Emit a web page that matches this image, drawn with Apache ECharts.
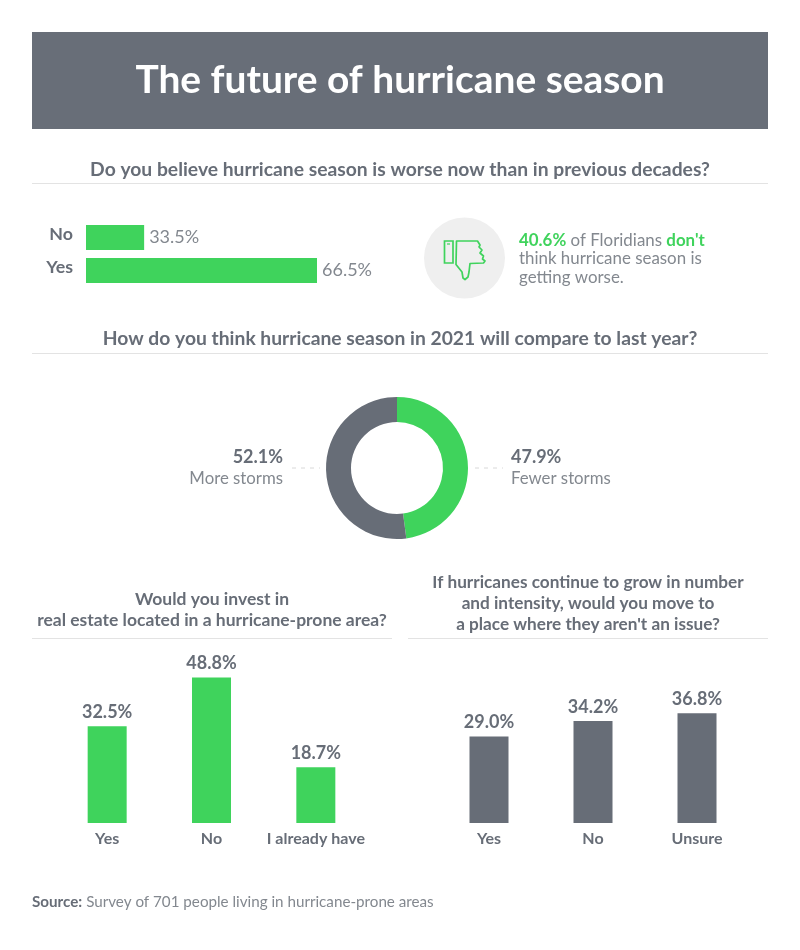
<!DOCTYPE html>
<html>
<head>
<meta charset="utf-8">
<style>
html,body{margin:0;padding:0;background:#fff}
#main{width:800px;height:950px}
</style>
<script src="https://cdn.jsdelivr.net/npm/echarts@6/dist/echarts.min.js"></script>
</head>
<body>
<div id="main"></div>
<script>
// data
var worseCats = ['No', 'Yes'];
var worseVals = [33.5, 66.5];
var compareCats = ['Fewer storms', 'More storms'];
var compareVals = [47.9, 52.1];
var investCats = ['Yes', 'No', 'I already have'];
var investVals = [32.5, 48.8, 18.7];
var moveCats = ['Yes', 'No', 'Unsure'];
var moveVals = [29.0, 34.2, 36.8];

var GREEN = '#3fd35c', GREY = '#676d77', SOFT = '#83888f', RULE = '#e3e3e3';
var FONT = 'Lato';

function pct(v){ return v.toFixed(1) + '%'; }

function heading(text, x, y){
	return {type:'text', x:x, y:y, style:{text:text, font:'700 19.3px ' + FONT, fill:GREY, textAlign:'center', textVerticalAlign:'middle'}};
}
function rule(x1, x2, y){
	return {type:'line', shape:{x1:x1, y1:y, x2:x2, y2:y}, style:{stroke:RULE, lineWidth:1}};
}
function dash(x1, x2){
	return {type:'line', shape:{x1:x1, y1:468, x2:x2, y2:468}, style:{stroke:'#d8d8d8', lineWidth:1, lineDash:[4,5]}};
}
function donutText(i, x, align){
	return {type:'text', x:x, y:468, style:{
		rich:{b:{font:'700 18px ' + FONT, fill:GREY, lineHeight:21}, r:{font:'400 16.8px ' + FONT, fill:SOFT, lineHeight:21}},
		text:'{b|' + pct(compareVals[i]) + '}\n{r|' + compareCats[i] + '}',
		textAlign:align, textVerticalAlign:'middle'
	}};
}
function columnSeries(i, vals, color){
	return {
		type:'bar', xAxisIndex:i, yAxisIndex:i, data:vals, barWidth:39,
		itemStyle:{color:color},
		label:{show:true, position:'top', distance:5, formatter:function(p){ return pct(p.value); }, fontFamily:FONT, fontWeight:700, fontSize:18, color:GREY}
	};
}
function columnX(i, cats){
	return {type:'category', gridIndex:i, data:cats, axisLine:{show:false}, axisTick:{show:false},
		axisLabel:{interval:0, margin:8, fontFamily:FONT, fontWeight:700, fontSize:16, color:GREY}};
}
function columnY(i){
	return {type:'value', gridIndex:i, min:0, max:50, show:false};
}

var chart = echarts.init(document.getElementById('main'), null, {renderer:'canvas'});
chart.setOption({
	animation:false,
	grid:[
		{left:86, top:221, width:231, height:66},
		{left:55, top:674, width:313, height:149},
		{left:437, top:674, width:312, height:149}
	],
	xAxis:[
		// bars in the reference do not start from zero, so the hidden axis does not either
		{type:'value', gridIndex:0, min:22.4, max:66.5, show:false},
		columnX(1, investCats),
		columnX(2, moveCats)
	],
	yAxis:[
		{type:'category', gridIndex:0, inverse:true, data:worseCats, axisLine:{show:false}, axisTick:{show:false},
			axisLabel:{margin:13, verticalAlign:'bottom', lineHeight:6, fontFamily:FONT, fontWeight:700, fontSize:17.8, color:GREY}},
		columnY(1),
		columnY(2)
	],
	series:[
		{type:'bar', xAxisIndex:0, yAxisIndex:0, data:worseVals, barWidth:25, itemStyle:{color:GREEN},
			label:{show:true, position:'right', distance:5, formatter:function(p){ return pct(p.value); }, fontFamily:FONT, fontSize:18, color:SOFT}},
		columnSeries(1, investVals, GREEN),
		columnSeries(2, moveVals, GREY),
		{type:'pie', center:[397,468], radius:[46,71], startAngle:90, clockwise:true, silent:true, label:{show:false}, labelLine:{show:false},
			data:[
				{name:compareCats[0], value:compareVals[0], itemStyle:{color:GREEN}},
				{name:compareCats[1], value:compareVals[1], itemStyle:{color:GREY}}
			]}
	],
	graphic:[
		{type:'rect', shape:{x:32, y:32, width:736, height:97}, style:{fill:'#686e78'}},
		{type:'text', x:400, y:80, style:{text:'The future of hurricane season', font:'700 38.9px ' + FONT, fill:'#fff', textAlign:'center', textVerticalAlign:'middle'}},
		heading('Do you believe hurricane season is worse now than in previous decades?', 400, 170),
		rule(32, 768, 183.5),
		heading('How do you think hurricane season in 2021 will compare to last year?', 400, 339),
		rule(32, 768, 353.5),
		// thumbs down callout
		{type:'circle', shape:{cx:464.5, cy:258, r:40.5}, style:{fill:'#efefef'}},
		{type:'rect', shape:{x:444.5, y:241, width:8.5, height:22}, style:{fill:'none', stroke:GREEN, lineWidth:1.7}},
		{type:'line', shape:{x1:447, y1:244, x2:450, y2:244}, style:{stroke:GREEN, lineWidth:1.2}},
		{type:'polygon', shape:{points:[[456.5,241],[477.5,241],[480,245],[479,247],[482,250],[480,253],[483.5,256],[482.5,259],[485,261],[483.5,263],[470,263.5],[469,272],[468,277],[465,279.5],[463,278],[462,272],[456,264.5]]},
			style:{fill:'none', stroke:GREEN, lineWidth:1.7, lineJoin:'round'}},
		{type:'text', x:519, y:259, style:{
			rich:{g:{font:'700 16.9px ' + FONT, fill:GREEN, lineHeight:18.7}, r:{font:'400 16.9px ' + FONT, fill:SOFT, lineHeight:18.7}},
			text:'{g|40.6%}{r| of Floridians }{g|don\'t}\n{r|think hurricane season is}\n{r|getting worse.}',
			textVerticalAlign:'middle'
		}},
		// donut labels
		dash(292, 320),
		dash(475, 503),
		donutText(1, 283, 'right'),
		donutText(0, 511, 'left'),
		// bottom headings
		{type:'text', x:212, y:610, style:{text:'Would you invest in\nreal estate located in a hurricane-prone area?', font:'700 17.5px ' + FONT, fill:GREY, lineHeight:21, textAlign:'center', textVerticalAlign:'middle'}},
		rule(32, 392, 638.5),
		{type:'text', x:588, y:603, style:{text:'If hurricanes continue to grow in number\nand intensity, would you move to\na place where they aren\'t an issue?', font:'700 17.2px ' + FONT, fill:GREY, lineHeight:21, textAlign:'center', textVerticalAlign:'middle'}},
		rule(408, 768, 638.5),
		// source
		{type:'text', x:32, y:902, style:{
			rich:{b:{font:'700 15.2px ' + FONT, fill:GREY}, r:{font:'400 15.2px ' + FONT, fill:SOFT}},
			text:'{b|Source:}{r| Survey of 701 people living in hurricane-prone areas}',
			textVerticalAlign:'middle'
		}}
	]
});
</script>
</body>
</html>
